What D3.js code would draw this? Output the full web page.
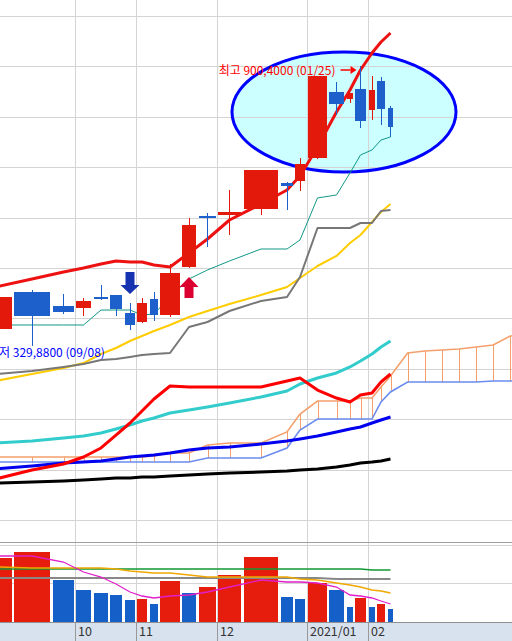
<!DOCTYPE html>
<html>
<head>
<meta charset="utf-8">
<script src="https://cdn.jsdelivr.net/npm/d3@7"></script>
<style>
  body { margin: 0; background: #fff; }
  text { font-family: "Noto Sans CJK KR", "Liberation Sans", sans-serif; }
</style>
</head>
<body>
<svg id="chart" width="512" height="641"></svg>
<script>

// DATA ––––––––––––––––––––––––––––––––––––––––––––––––––––––––––––––––
// weekly candles (equivolume: width of each candle follows its volume)
var openP  = [364.5, 439.9, 411.4, 407.3, 429.7, 433.8, 397.1, 378.8, 425.6, 393.0, 490.9, 594.8, 596.8, 609.0, 662.0, 666.1, 712.9, 847.4, 833.2, 853.5, 810.8, 869.8, 814.8];
var highP  = [440.0, 444.0, 435.8, 427.7, 454.2, 433.8, 417.5, 427.7, 439.9, 497.0, 590.7, 600.9, 647.8, 688.5, 664.1, 712.9, 880.0, 867.8, 845.4, 900.4, 880.0, 878.0, 818.9];
var lowP   = [355.0, 329.88, 395.1, 391.0, 423.6, 391.0, 362.5, 376.7, 380.8, 389.0, 488.8, 531.6, 556.1, 596.8, 607.0, 645.7, 710.9, 800.6, 825.0, 774.1, 790.4, 780.2, 755.7];
var closeP = [429.7, 391.0, 399.2, 421.6, 425.6, 405.3, 372.7, 417.5, 393.0, 478.6, 576.4, 590.7, 602.9, 688.5, 655.9, 700.7, 880.0, 823.0, 845.4, 788.3, 851.5, 812.8, 776.1];
var volume = [64, 70, 42, 32, 29.5, 27, 22, 23, 18.5, 41, 29.5, 35.5, 47, 65.5, 25.5, 23.5, 39.5, 32, 15, 24.5, 15.5, 18.5, 13.5];
var month  = [9, 9, 9, 10, 10, 10, 10, 11, 11, 11, 11, 11, 12, 12, 12, 12, 1, 1, 1, 1, 2, 2, 2];
var tickLabels = ["10", "11", "12", "2021/01", "02"];

// price overlays
var maShort = [450.1, 466.4, 480.7, 488.8, 497.0, 503.1, 501.0, 501.0, 494.9, 490.9, 519.4, 547.9, 586.6, 619.2, 647.8, 676.3, 735.4, 806.7, 851.5, 892.3, 926.9, 949.3, 967.7];
var tenkan  = [372.7, 372.7, 372.7, 372.7, 403.2, 403.2, 403.2, 393.1, 395.1, 429.7, 466.4, 484.8, 503.1, 527.5, 527.5, 545.9, 631.5, 637.6, 682.4, 719.1, 729.3, 749.6, 755.8];
var kijun   = [272.8, 278.9, 287.1, 293.2, 301.4, 303.4, 307.5, 311.5, 313.6, 315.6, 368.6, 378.8, 401.2, 421.6, 429.7, 470.5, 570.3, 570.3, 570.3, 580.5, 580.5, 605.0, 607.0];
var maMid   = [258.6, 272.8, 285.1, 295.2, 313.6, 325.8, 340.1, 350.3, 360.4, 372.7, 389.0, 401.2, 415.5, 433.8, 450.1, 468.4, 492.9, 513.3, 539.8, 556.1, 582.5, 602.9, 619.2];
var maRed2  = [58.9, 77.2, 89.4, 103.7, 122.1, 148.5, 173.0, 197.5, 221.9, 248.4, 246.4, 246.4, 246.4, 246.4, 258.6, 264.7, 240.2, 223.9, 215.8, 230.0, 234.1, 256.5, 272.8];
var maCyan  = [132.2, 136.3, 142.4, 146.5, 152.6, 160.8, 168.9, 177.1, 183.2, 193.4, 199.5, 205.6, 213.7, 226.0, 238.2, 252.5, 264.7, 274.9, 287.1, 299.3, 313.6, 327.8, 340.1];
var maBlue  = [79.3, 85.4, 91.5, 93.5, 95.6, 99.6, 103.7, 105.7, 107.8, 111.9, 118.0, 122.1, 124.1, 130.2, 136.3, 140.4, 146.5, 154.7, 160.8, 164.8, 173.0, 179.1, 185.2];
var maBlack = [50.7, 52.8, 54.8, 56.8, 58.9, 60.9, 60.9, 63.0, 63.0, 65.0, 67.0, 69.1, 71.1, 73.2, 75.2, 77.2, 79.3, 83.3, 87.4, 91.5, 93.5, 95.6, 99.6];

// cloud, runs 8 periods past the last candle
var spanA = [103.7, 103.7, 103.7, 103.7, 103.7, 103.7, 103.7, 103.7, 105.7, 111.9, 111.9, 128.2, 132.2, 132.2, 154.7, 191.3, 217.8, 217.8, 217.8, 223.9, 223.9, 246.4, 268.8,
             315.6, 319.7, 321.7, 323.8, 327.8, 331.9, 350.3, 356.4];
var spanB = [93.5, 93.5, 93.5, 93.5, 93.5, 93.5, 93.5, 93.5, 93.5, 93.5, 93.5, 101.7, 101.7, 101.7, 122.1, 158.7, 181.1, 181.1, 181.1, 181.1, 181.1, 215.8, 236.2,
             256.5, 256.5, 256.5, 256.5, 256.5, 258.6, 258.6, 258.6];
var futureStep = 31; // volume units given to an empty future period

// volume averages
var volMaPink  = [66, 66, 60, 50, 45, 38, 30, 26, 24, 26, 27, 30, 35, 42, 40, 40, 39, 35, 27, 26, 24, 21, 18];
var volMaGold  = [55, 54, 54, 54, 54, 53, 51, 50, 49, 49, 47, 45, 45, 45, 45, 43, 42, 39, 37, 35, 32, 31, 29];
var volMaGreen = [53, 53, 53, 53, 53, 53, 53, 53, 53, 53, 53, 53, 53, 53, 53, 53, 53, 53, 53, 53, 52, 52, 52];
var volMaGray  = [44, 44, 44, 44, 44, 44, 44, 44, 44, 44, 44, 44, 44, 44, 44, 44, 44, 43, 43, 43, 43, 43, 43];

var signals = [{i: 6, type: "sell"}, {i: 10, type: "buy"}];
var highLabel = "최고 900,4000 (01/25)";
var lowLabel = "최저 329,8800 (09/08)";


// SCALES ––––––––––––––––––––––––––––––––––––––––––––––––––––––––––––––
var n = openP.length;
var svg = d3.select("#chart");

var cum = [0];
volume.forEach(function(v, i) { cum.push(cum[i] + v); });

var x = d3.scaleLinear().domain([0, d3.sum(volume)]).range([-21.3, 395.1]);
var y = d3.scaleLinear().domain([329.88, 900.40]).range([346, 66]);
var yv = d3.scaleLinear().domain([0, 80]).range([622, 542]);
var gap = 2.5;

function left(i) { return x(cum[i]); }
function boxW(i) { return Math.max(1, x(cum[i + 1]) - x(cum[i]) - gap); }
function mid(i) {
  if (i < n) return Math.round(left(i)) + Math.round(boxW(i)) / 2;
  return mid(n - 1) + (i - n + 1) * (x(futureStep) - x(0));
}

var red = "#e3190b", blue = "#1d5fcb";


// BACKGROUND + GRID ––––––––––––––––––––––––––––––––––––––––––––––––––––

// highlight around the latest run
svg.append("ellipse")
    .attr("cx", 344).attr("cy", 112).attr("rx", 112).attr("ry", 60)
    .attr("fill", "#ccffff");

d3.range(11).forEach(function(k) {
  var gy = Math.round(16 + k * 50.4) + 0.5;
  svg.append("line").attr("x1", 0).attr("x2", 512).attr("y1", gy).attr("y2", gy)
      .attr("stroke", "#d4d4d4");
});
[545, 583].forEach(function(gy) {
  svg.append("line").attr("x1", 0).attr("x2", 512).attr("y1", gy + 0.5).attr("y2", gy + 0.5)
      .attr("stroke", "#d4d4d4");
});

// month boundaries
var ticks = [];
for (var i = 1; i < n; i++) {
  if (month[i] !== month[i - 1]) ticks.push(Math.round(left(i)) - 1 + 0.5);
}
ticks.forEach(function(tx) {
  svg.append("line").attr("x1", tx).attr("x2", tx).attr("y1", 0).attr("y2", 622)
      .attr("stroke", "#d4d4d4");
});

svg.append("ellipse")
    .attr("cx", 344).attr("cy", 112).attr("rx", 112).attr("ry", 60)
    .attr("fill", "none").attr("stroke", "#0000ff").attr("stroke-width", 3);


// CLOUD ––––––––––––––––––––––––––––––––––––––––––––––––––––––––––––––––
var pLine = d3.line().x(function(d, i) { return mid(i); }).y(function(d) { return y(d); });

spanA.forEach(function(a, i) {
  svg.append("line")
      .attr("x1", Math.round(mid(i)) + 0.5).attr("x2", Math.round(mid(i)) + 0.5)
      .attr("y1", y(a)).attr("y2", y(spanB[i]))
      .attr("stroke", "#f4a06c").attr("stroke-width", 1);
});
svg.append("path").attr("d", pLine(spanB)).attr("fill", "none")
    .attr("stroke", "#6b8cf0").attr("stroke-width", 1.6);
svg.append("path").attr("d", pLine(spanA)).attr("fill", "none")
    .attr("stroke", "#f4a06c").attr("stroke-width", 1.6);


// PRICE LINES ––––––––––––––––––––––––––––––––––––––––––––––––––––––––––
var lines = [
  [maBlack, "#000000", 3],
  [maBlue, "#0000ee", 3],
  [maCyan, "#33cccc", 3],
  [maRed2, "#ff0000", 3],
  [maMid, "#ffcc00", 2],
  [kijun, "#777777", 2],
  [tenkan, "#119988", 1],
  [maShort, "#ee1111", 3]
];
lines.forEach(function(l) {
  svg.append("path").attr("d", pLine(l[0])).attr("fill", "none")
      .attr("stroke", l[1]).attr("stroke-width", l[2]).attr("stroke-linejoin", "round");
});


// CANDLES ––––––––––––––––––––––––––––––––––––––––––––––––––––––––––––––
var candles = svg.append("g").attr("shape-rendering", "crispEdges");
d3.range(n).forEach(function(i) {
  var up = closeP[i] >= openP[i];
  var c = up ? red : blue;
  var cx = Math.floor(mid(i)) + 0.5;
  candles.append("line").attr("x1", cx).attr("x2", cx)
      .attr("y1", y(highP[i])).attr("y2", y(lowP[i]))
      .attr("stroke", c);
  var top = y(Math.max(openP[i], closeP[i])), bot = y(Math.min(openP[i], closeP[i]));
  candles.append("rect")
      .attr("x", Math.round(left(i))).attr("width", Math.round(boxW(i)))
      .attr("y", top).attr("height", Math.max(2, bot - top))
      .attr("fill", c);
});

// buy / sell arrows
signals.forEach(function(s) {
  var cx = mid(s.i), p;
  if (s.type === "sell") {
    var t = y(highP[s.i]) - 9;
    p = [[cx - 4.5, t - 22], [cx + 4.5, t - 22], [cx + 4.5, t - 9], [cx + 9.5, t - 9], [cx, t], [cx - 9.5, t - 9], [cx - 4.5, t - 9]];
    svg.append("path").attr("d", d3.line()(p) + "Z").attr("fill", "#1533b0");
  } else {
    var b = y(lowP[s.i]) + 9;
    p = [[cx, b], [cx + 9.5, b + 10], [cx + 4.5, b + 10], [cx + 4.5, b + 21], [cx - 4.5, b + 21], [cx - 4.5, b + 10], [cx - 9.5, b + 10]];
    svg.append("path").attr("d", d3.line()(p) + "Z").attr("fill", "#dc0030");
  }
});

// high / low notes
var iHi = highP.indexOf(d3.max(highP)), iLo = lowP.indexOf(d3.min(lowP));
svg.append("text").attr("x", mid(iHi) - 25).attr("y", y(highP[iHi]) + 9)
    .attr("text-anchor", "end").attr("font-size", 12).attr("fill", "#ff0000")
    .text(highLabel);
var ay = y(highP[iHi]) + 4;
svg.append("line").attr("x1", mid(iHi) - 20).attr("x2", mid(iHi) - 10)
    .attr("y1", ay).attr("y2", ay).attr("stroke", "#ff0000").attr("stroke-width", 1.5);
svg.append("path")
    .attr("d", d3.line()([[mid(iHi) - 10, ay - 4], [mid(iHi) - 4, ay], [mid(iHi) - 10, ay + 4]]) + "Z")
    .attr("fill", "#ff0000");
svg.append("text").attr("x", mid(iLo) - 44).attr("y", y(lowP[iLo]) + 11)
    .attr("font-size", 12).attr("fill", "#0000ff")
    .text(lowLabel);


// VOLUME –––––––––––––––––––––––––––––––––––––––––––––––––––––––––––––––
svg.append("line").attr("x1", 0).attr("x2", 512).attr("y1", 542.5).attr("y2", 542.5).attr("stroke", "#a0a0a0");

var vbars = svg.append("g").attr("shape-rendering", "crispEdges");
volume.forEach(function(v, i) {
  var up = i === 0 || v >= volume[i - 1];
  vbars.append("rect")
      .attr("x", Math.round(left(i))).attr("width", Math.round(boxW(i)))
      .attr("y", yv(v)).attr("height", yv(0) - yv(v))
      .attr("fill", up ? "#e61c0c" : "#1560c8");
});

var vLine = d3.line().x(function(d, i) { return mid(i); }).y(function(d) { return yv(d); });
[[volMaGray, "#888888", 2], [volMaGreen, "#119933", 1.5], [volMaGold, "#f0a800", 1.5], [volMaPink, "#e020c8", 1.3]]
  .forEach(function(l) {
    svg.append("path").attr("d", vLine(l[0])).attr("fill", "none")
        .attr("stroke", l[1]).attr("stroke-width", l[2]);
  });


// X AXIS –––––––––––––––––––––––––––––––––––––––––––––––––––––––––––––––
svg.append("rect").attr("x", 0).attr("y", 623).attr("width", 512).attr("height", 18).attr("fill", "#d8e2ee");
svg.append("line").attr("x1", 0).attr("x2", 512).attr("y1", 622.5).attr("y2", 622.5).attr("stroke", "#909090");

ticks.forEach(function(tx, k) {
  svg.append("line").attr("x1", tx).attr("x2", tx).attr("y1", 623).attr("y2", 641)
      .attr("stroke", "#999");
  svg.append("text").attr("x", tx + 2.5).attr("y", 636)
      .attr("font-family", "Liberation Sans, sans-serif")
      .attr("font-size", 12.5).attr("fill", "#333")
      .text(tickLabels[k]);
});

</script>
</body>
</html>
